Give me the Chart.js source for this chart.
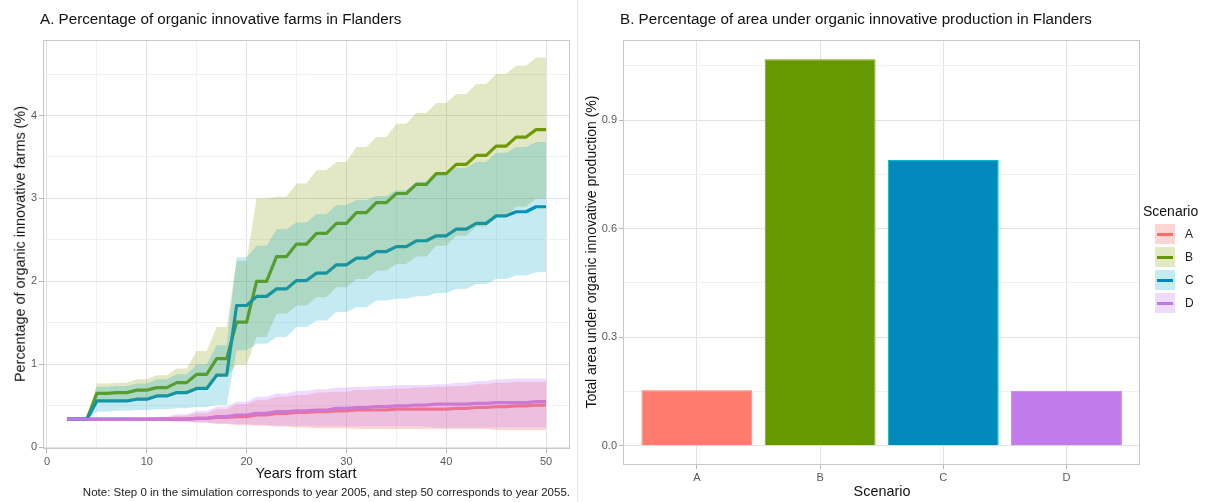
<!DOCTYPE html>
<html>
<head>
<meta charset="utf-8">
<script src="https://cdn.jsdelivr.net/npm/chart.js@4.4.1/dist/chart.umd.min.js"></script>
<style>
  html, body { margin: 0; padding: 0; background: #fff; }
  #wrap { position: relative; width: 1218px; height: 502px; overflow: hidden;
          font-family: "Liberation Sans", Arial, Helvetica, sans-serif; color: #111; }
  canvas { position: absolute; top: 0; }
  #farms { left: 0; }
  #area { left: 578px; }
  #divider { position: absolute; left: 577px; top: 0; width: 1px; height: 502px; background: #e4e4e4; }
  .t { position: absolute; white-space: nowrap; line-height: 1; }
  .c { transform: translate(-50%, -50%); }
  .r { transform: translate(-50%, -50%) rotate(-90deg); }
  .key { position: absolute; width: 20px; height: 20px; }
  .key i { position: absolute; left: 2px; right: 2px; top: 8.5px; height: 3px; }
</style>
</head>
<body>
<div id="wrap">
  <canvas id="farms" width="578" height="502"></canvas>
  <canvas id="area" width="640" height="502"></canvas>
  <div id="divider"></div>

  <div class="t" style="left:40px;top:11px;font-size:15.2px">A. Percentage of organic innovative farms in Flanders</div>
  <div class="t r" style="left:20px;top:244px;font-size:14.4px">Percentage of organic innovative farms (%)</div>
  <div class="t c" style="left:306px;top:473px;font-size:14.4px">Years from start</div>
  <div class="t" style="right:648px;top:487px;font-size:11.5px;color:#222">Note: Step 0 in the simulation corresponds to year 2005, and step 50 corresponds to year 2055.</div>

  <div class="t" style="left:620px;top:11px;font-size:15.2px">B. Percentage of area under organic innovative production in Flanders</div>
  <div class="t r" style="left:591px;top:252px;font-size:14px">Total area under organic innovative production (%)</div>
  <div class="t c" style="left:882px;top:491px;font-size:14.4px">Scenario</div>

  <div id="legend"></div>
</div>

<script>
// Scenario names and simulation years (x = 2 .. 50)
const scenarios = ['A', 'B', 'C', 'D'];
const years = [2, 3, 4, 5, 6, 7, 8, 9, 10, 11, 12, 13, 14, 15, 16, 17, 18, 19, 20, 21, 22, 23, 24, 25, 26,
               27, 28, 29, 30, 31, 32, 33, 34, 35, 36, 37, 38, 39, 40, 41, 42, 43, 44, 45, 46, 47, 48, 49, 50];

// Scenario A: mean and band of organic innovative farms (%)
const meanA = [0.34, 0.34, 0.34, 0.34, 0.34, 0.34, 0.34, 0.34, 0.34, 0.34, 0.34, 0.34, 0.34, 0.35, 0.35, 0.36, 0.36,
               0.37, 0.37, 0.39, 0.39, 0.41, 0.41, 0.42, 0.42, 0.43, 0.43, 0.44, 0.44, 0.45, 0.45, 0.45, 0.45,
               0.46, 0.46, 0.46, 0.46, 0.46, 0.46, 0.47, 0.47, 0.48, 0.48, 0.49, 0.49, 0.50, 0.50, 0.51, 0.51];
const lowA  = [0.34, 0.34, 0.34, 0.34, 0.34, 0.34, 0.34, 0.33, 0.33, 0.32, 0.32, 0.31, 0.31, 0.30, 0.30, 0.28, 0.28,
               0.27, 0.27, 0.26, 0.26, 0.25, 0.25, 0.24, 0.24, 0.23, 0.23, 0.23, 0.23, 0.22, 0.22, 0.22, 0.22,
               0.22, 0.22, 0.22, 0.22, 0.22, 0.22, 0.22, 0.22, 0.22, 0.22, 0.21, 0.21, 0.21, 0.21, 0.21, 0.21];
const highA = [0.34, 0.34, 0.34, 0.34, 0.34, 0.34, 0.34, 0.35, 0.35, 0.36, 0.36, 0.38, 0.38, 0.41, 0.41, 0.46, 0.46,
               0.52, 0.52, 0.57, 0.57, 0.61, 0.61, 0.63, 0.63, 0.66, 0.66, 0.67, 0.67, 0.69, 0.69, 0.70, 0.70,
               0.71, 0.71, 0.72, 0.72, 0.73, 0.73, 0.74, 0.74, 0.76, 0.76, 0.78, 0.78, 0.79, 0.79, 0.79, 0.79];

// Scenario B
const meanB = [0.34, 0.34, 0.34, 0.65, 0.65, 0.66, 0.66, 0.69, 0.69, 0.72, 0.72, 0.78, 0.78, 0.88, 0.88, 1.07, 1.07,
               1.51, 1.51, 2.00, 2.00, 2.30, 2.30, 2.45, 2.45, 2.58, 2.58, 2.70, 2.70, 2.83, 2.83, 2.95, 2.95,
               3.06, 3.06, 3.17, 3.17, 3.30, 3.30, 3.41, 3.41, 3.52, 3.52, 3.63, 3.63, 3.74, 3.74, 3.83, 3.83];
const lowB  = [0.34, 0.34, 0.34, 0.55, 0.55, 0.55, 0.55, 0.57, 0.57, 0.61, 0.61, 0.65, 0.65, 0.70, 0.70, 0.85, 0.85,
               1.00, 1.00, 1.33, 1.33, 1.61, 1.61, 1.71, 1.71, 1.81, 1.81, 1.93, 1.93, 2.03, 2.03, 2.13, 2.13,
               2.21, 2.21, 2.30, 2.30, 2.43, 2.43, 2.55, 2.55, 2.66, 2.66, 2.78, 2.78, 2.90, 2.90, 3.00, 3.00];
const highB = [0.34, 0.34, 0.34, 0.77, 0.77, 0.78, 0.78, 0.82, 0.82, 0.87, 0.87, 0.95, 0.95, 1.16, 1.16, 1.45, 1.45,
               2.25, 2.25, 3.00, 3.00, 3.02, 3.02, 3.18, 3.18, 3.34, 3.34, 3.44, 3.44, 3.62, 3.62, 3.74, 3.74,
               3.90, 3.90, 4.03, 4.03, 4.15, 4.15, 4.26, 4.26, 4.38, 4.38, 4.50, 4.50, 4.60, 4.60, 4.70, 4.70];

// Scenario C
const meanC = [0.34, 0.34, 0.34, 0.56, 0.56, 0.56, 0.56, 0.58, 0.58, 0.62, 0.62, 0.66, 0.66, 0.71, 0.71, 0.87, 0.87,
               1.71, 1.71, 1.82, 1.82, 1.91, 1.91, 2.01, 2.01, 2.10, 2.10, 2.20, 2.20, 2.28, 2.28, 2.36, 2.36,
               2.42, 2.42, 2.49, 2.49, 2.55, 2.55, 2.63, 2.63, 2.70, 2.70, 2.79, 2.79, 2.84, 2.84, 2.90, 2.90];
const lowC  = [0.34, 0.34, 0.34, 0.43, 0.43, 0.44, 0.44, 0.45, 0.45, 0.46, 0.46, 0.47, 0.47, 0.49, 0.49, 0.51, 0.51,
               1.17, 1.17, 1.25, 1.25, 1.33, 1.33, 1.45, 1.45, 1.53, 1.53, 1.63, 1.63, 1.69, 1.69, 1.77, 1.77,
               1.79, 1.79, 1.82, 1.82, 1.86, 1.86, 1.91, 1.91, 1.97, 1.97, 2.03, 2.03, 2.07, 2.07, 2.11, 2.11];
const highC = [0.34, 0.34, 0.34, 0.73, 0.73, 0.74, 0.74, 0.77, 0.77, 0.82, 0.82, 0.88, 0.88, 1.00, 1.00, 1.23, 1.23,
               2.29, 2.29, 2.43, 2.43, 2.63, 2.63, 2.71, 2.71, 2.81, 2.81, 2.92, 2.92, 2.98, 2.98, 3.03, 3.03,
               3.10, 3.10, 3.20, 3.20, 3.30, 3.30, 3.37, 3.37, 3.44, 3.44, 3.55, 3.55, 3.62, 3.62, 3.68, 3.68];

// Scenario D
const meanD = [0.34, 0.34, 0.34, 0.34, 0.34, 0.34, 0.34, 0.34, 0.34, 0.34, 0.34, 0.34, 0.34, 0.35, 0.35, 0.37, 0.37,
               0.39, 0.39, 0.41, 0.41, 0.43, 0.43, 0.44, 0.44, 0.45, 0.45, 0.47, 0.47, 0.48, 0.48, 0.49, 0.49,
               0.50, 0.50, 0.51, 0.51, 0.52, 0.52, 0.52, 0.52, 0.53, 0.53, 0.54, 0.54, 0.54, 0.54, 0.55, 0.55];
const lowD  = [0.34, 0.34, 0.34, 0.34, 0.34, 0.34, 0.34, 0.33, 0.33, 0.32, 0.32, 0.31, 0.31, 0.30, 0.30, 0.29, 0.29,
               0.28, 0.28, 0.27, 0.27, 0.26, 0.26, 0.26, 0.26, 0.25, 0.25, 0.25, 0.25, 0.25, 0.25, 0.25, 0.25,
               0.25, 0.25, 0.25, 0.25, 0.24, 0.24, 0.24, 0.24, 0.24, 0.24, 0.24, 0.24, 0.24, 0.24, 0.24, 0.24];
const highD = [0.34, 0.34, 0.34, 0.34, 0.34, 0.34, 0.34, 0.35, 0.35, 0.37, 0.37, 0.40, 0.40, 0.44, 0.44, 0.49, 0.49,
               0.55, 0.55, 0.61, 0.61, 0.65, 0.65, 0.68, 0.68, 0.70, 0.70, 0.72, 0.72, 0.73, 0.73, 0.74, 0.74,
               0.75, 0.75, 0.75, 0.75, 0.76, 0.76, 0.78, 0.78, 0.80, 0.80, 0.82, 0.82, 0.83, 0.83, 0.83, 0.83];

// Total area under organic innovative production (%) per scenario
const areaShare = [0.153, 1.068, 0.790, 0.152];

// Axis ticks (grid positions; labelled ones are listed separately)
const farmXGrid   = [0, 5, 10, 15, 20, 25, 30, 35, 40, 45, 50];
const farmXLabels = [0, 10, 20, 30, 40, 50];
const farmYGrid   = [0, 0.5, 1, 1.5, 2, 2.5, 3, 3.5, 4, 4.5];
const farmYLabels = [0, 1, 2, 3, 4];
const areaYGrid   = [0, 0.15, 0.3, 0.45, 0.6, 0.75, 0.9, 1.05];
const areaYLabels = [0, 0.3, 0.6, 0.9];

// Styling
const lineCol = { A: '#F96E66', B: '#669900', C: '#0089BA', D: '#BF77EA' };
const bandCol = { A: 'rgba(248,118,109,0.3)', B: 'rgba(140,160,20,0.25)',
                  C: 'rgba(0,170,200,0.23)', D: 'rgba(199,124,255,0.28)' };
const barFill = { A: '#FF7B6E', B: '#669900', C: '#0089BA', D: '#C27BEB' };
const barEdge = { A: '#F8766D', B: '#7CAE00', C: '#00BFC4', D: '#C77CFF' };
const MAJOR = '#e2e2e2', MINOR = '#f1f1f1', TICK = '#b5b5b5', LABEL = '#5a5a5a';

Chart.defaults.font.family = '"Liberation Sans", Arial, Helvetica, sans-serif';

const series = {
  A: { mean: meanA, low: lowA, high: highA },
  B: { mean: meanB, low: lowB, high: highB },
  C: { mean: meanC, low: lowC, high: highC },
  D: { mean: meanD, low: lowD, high: highD }
};
const pts = arr => years.map((x, i) => ({ x, y: arr[i] }));
const isIn = (v, list) => list.some(l => Math.abs(l - v) < 1e-6);

// Light panel frame drawn on top of the plotted data
const panelFrame = {
  id: 'panelFrame',
  afterDatasetsDraw(chart) {
    const { ctx, chartArea: a } = chart;
    ctx.save();
    ctx.strokeStyle = '#c8c8c8';
    ctx.lineWidth = 1;
    ctx.strokeRect(Math.round(a.left) + 0.5, Math.round(a.top) + 0.5,
                   Math.round(a.right - a.left) - 1, Math.round(a.bottom - a.top) - 1);
    ctx.restore();
  }
};

// ---------- Panel A: farms over time ----------
const farmSets = [];
scenarios.forEach((s, k) => {
  // mean lines sit underneath the translucent bands
  farmSets.push({
    data: pts(series[s].mean), borderColor: lineCol[s], borderWidth: 3.2,
    pointRadius: 0, tension: 0, fill: false, borderJoinStyle: 'round', order: 20 - k
  });
});
scenarios.forEach((s, k) => {
  farmSets.push({
    data: pts(series[s].low), borderWidth: 0, borderColor: 'rgba(0,0,0,0)',
    pointRadius: 0, tension: 0, fill: false, order: 8 - k
  });
  farmSets.push({
    data: pts(series[s].high), borderWidth: 0, borderColor: 'rgba(0,0,0,0)',
    backgroundColor: bandCol[s], pointRadius: 0, tension: 0, fill: '-1', order: 8 - k
  });
});

new Chart(document.getElementById('farms'), {
  type: 'line',
  data: { datasets: farmSets },
  options: {
    responsive: false, animation: false, events: [],
    layout: { padding: { left: 0, right: 8, top: 40, bottom: 0 } },
    plugins: { legend: { display: false }, tooltip: { enabled: false }, filler: { propagate: false } },
    scales: {
      x: {
        type: 'linear', min: -0.4, max: 52.4,
        afterBuildTicks: sc => { sc.ticks = farmXGrid.map(v => ({ value: v })); },
        afterFit: sc => { sc.height = 53; },
        border: { display: false },
        grid: {
          color: c => isIn(c.tick.value, farmXLabels) ? MAJOR : MINOR,
          tickColor: c => isIn(c.tick.value, farmXLabels) ? TICK : 'rgba(0,0,0,0)',
          tickLength: 4, lineWidth: 1
        },
        ticks: {
          autoSkip: false, maxRotation: 0, padding: 2, color: LABEL, font: { size: 11 },
          callback: v => isIn(v, farmXLabels) ? String(v) : ''
        }
      },
      y: {
        type: 'linear', min: -0.02, max: 4.91,
        afterBuildTicks: sc => { sc.ticks = farmYGrid.map(v => ({ value: v })); },
        afterFit: sc => { sc.width = 43; },
        border: { display: false },
        grid: {
          color: c => isIn(c.tick.value, farmYLabels) ? MAJOR : MINOR,
          tickColor: c => isIn(c.tick.value, farmYLabels) ? TICK : 'rgba(0,0,0,0)',
          tickLength: 4, lineWidth: 1
        },
        ticks: {
          autoSkip: false, padding: 2, color: LABEL, font: { size: 11 },
          callback: v => isIn(v, farmYLabels) ? String(v) : ''
        }
      }
    }
  },
  plugins: [panelFrame]
});

// ---------- Panel B: area share per scenario ----------
new Chart(document.getElementById('area'), {
  type: 'bar',
  data: {
    datasets: [{
      data: areaShare.map((v, i) => ({ x: i + 1, y: v })),
      backgroundColor: scenarios.map(s => barFill[s]),
      borderColor: scenarios.map(s => barEdge[s]),
      borderWidth: 1, barPercentage: 0.9, categoryPercentage: 1
    }]
  },
  options: {
    responsive: false, animation: false, events: [],
    layout: { padding: { left: 0, right: 77.6, top: 40, bottom: 0 } },
    plugins: { legend: { display: false }, tooltip: { enabled: false } },
    scales: {
      x: {
        type: 'linear', min: 0.4, max: 4.6, offset: false,
        afterBuildTicks: sc => { sc.ticks = scenarios.map((s, i) => ({ value: i + 1 })); },
        afterFit: sc => { sc.height = 37; },
        border: { display: false },
        grid: { offset: false, color: MAJOR, tickColor: TICK, tickLength: 4, lineWidth: 1 },
        ticks: {
          autoSkip: false, maxRotation: 0, padding: 2, color: LABEL, font: { size: 11 },
          callback: v => scenarios[Math.round(v) - 1]
        }
      },
      y: {
        type: 'linear', min: -0.0534, max: 1.1214,
        afterBuildTicks: sc => { sc.ticks = areaYGrid.map(v => ({ value: v })); },
        afterFit: sc => { sc.width = 45; },
        border: { display: false },
        grid: {
          color: c => isIn(c.tick.value, areaYLabels) ? MAJOR : MINOR,
          tickColor: c => isIn(c.tick.value, areaYLabels) ? TICK : 'rgba(0,0,0,0)',
          tickLength: 4, lineWidth: 1
        },
        ticks: {
          autoSkip: false, padding: 2, color: LABEL, font: { size: 11 },
          callback: v => isIn(v, areaYLabels) ? v.toFixed(1) : ''
        }
      }
    }
  },
  plugins: [panelFrame]
});

// ---------- Shared legend ----------
const legend = document.getElementById('legend');
const head = document.createElement('div');
head.className = 't';
head.style.cssText = 'left:1143px;top:204px;font-size:14px';
head.textContent = 'Scenario';
legend.appendChild(head);
scenarios.forEach((s, i) => {
  const top = 224 + i * 23;
  const key = document.createElement('div');
  key.className = 'key';
  key.style.cssText = `left:1155px;top:${top}px;background:${bandCol[s]}`;
  const bar = document.createElement('i');
  bar.style.background = lineCol[s];
  key.appendChild(bar);
  legend.appendChild(key);
  const lab = document.createElement('div');
  lab.className = 't';
  lab.style.cssText = `left:1185px;top:${top + 4}px;font-size:12px;color:#222`;
  lab.textContent = s;
  legend.appendChild(lab);
});
</script>
</body>
</html>
